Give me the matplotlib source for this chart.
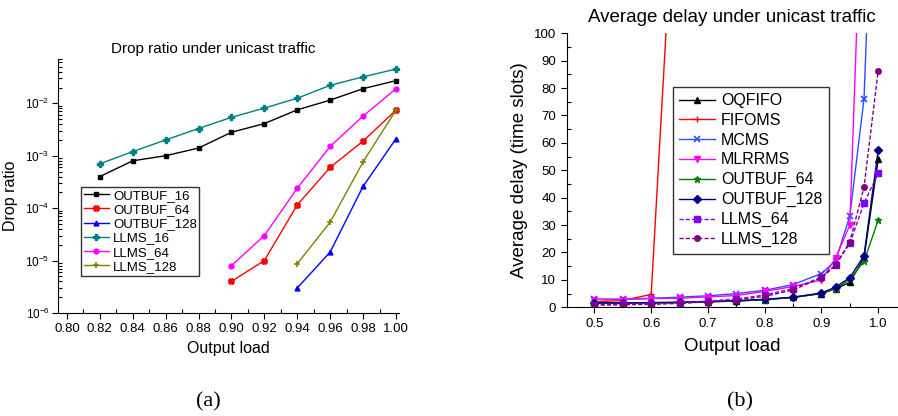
import matplotlib
matplotlib.use('Agg')
import matplotlib.pyplot as plt
from matplotlib.ticker import MultipleLocator, LogLocator, NullFormatter

plt.rcParams['font.family'] = ['Liberation Sans', 'DejaVu Sans']

# --- (a) drop ratio ---
load_a = [0.82, 0.84, 0.86, 0.88, 0.90, 0.92, 0.94, 0.96, 0.98, 1.00]
outbuf16 = [4e-4, 8e-4, 1e-3, 1.4e-3, 2.8e-3, 4.1e-3, 7.5e-3, 1.15e-2, 1.9e-2, 2.7e-2]
llms16 = [7e-4, 1.2e-3, 2e-3, 3.3e-3, 5.4e-3, 8.1e-3, 1.25e-2, 2.2e-2, 3.2e-2, 4.5e-2]
load_a64 = [0.90, 0.92, 0.94, 0.96, 0.98, 1.00]
outbuf64 = [4e-6, 1e-5, 1.15e-4, 6e-4, 1.9e-3, 7.4e-3]
llms64 = [8e-6, 3e-5, 2.4e-4, 1.5e-3, 5.7e-3, 1.9e-2]
load_a128 = [0.94, 0.96, 0.98, 1.00]
outbuf128 = [3e-6, 1.45e-5, 2.6e-4, 2.1e-3]
llms128 = [8.7e-6, 5.4e-5, 7.6e-4, 7.4e-3]

# --- (b) average delay ---
load_b = [0.5, 0.55, 0.6, 0.65, 0.7, 0.75, 0.8, 0.85, 0.9, 0.925, 0.95, 0.975, 1.0]
oqfifo = [1.5, 1.6, 1.7, 1.8, 2.0, 2.3, 2.8, 3.6, 5.0, 6.8, 9.1, 18, 54]
fifoms_x = [0.5, 0.55, 0.6, 0.65]
fifoms = [2.0, 2.5, 4.7, 188]
mcms = [3.0, 3.0, 3.3, 3.7, 4.2, 5.0, 6.2, 8.3, 12.3, 17, 33.3, 76, 212]
mlrrms_x = load_b[:12]
mlrrms = [2.8, 2.8, 3.2, 3.3, 3.8, 4.3, 5.8, 7.6, 10, 18, 30, 178]
ob64 = [1.5, 1.5, 1.6, 1.7, 2.0, 2.3, 2.8, 3.6, 5.1, 6.8, 10.2, 16.8, 31.8]
ob128 = [1.6, 1.6, 1.7, 1.8, 2.1, 2.4, 2.9, 3.7, 5.2, 7.4, 10.8, 18.9, 57.3]
ll64 = [1.0, 1.1, 1.3, 1.6, 2.3, 3.0, 4.5, 6.8, 11, 15.5, 23.3, 38, 48.9]
ll128 = [0.8, 0.9, 1.1, 1.4, 2.0, 2.7, 4.0, 6.3, 10.8, 15.3, 24, 43.8, 86.4]

fig = plt.figure(figsize=(8.98, 4.16), dpi=100)

def style_axes(ax):
    for s in ('top', 'right'):
        ax.spines[s].set_visible(False)
    ax.tick_params(which='major', direction='out', length=4, width=0.8)
    ax.tick_params(which='minor', direction='in', length=3, width=0.8)

ax1 = fig.add_axes([0.0646, 0.2476, 0.380, 0.6106])
ms = 3.5
ax1.plot(load_a, outbuf16, color='black', marker='s', ms=ms, lw=1, label='OUTBUF_16', clip_on=False)
ax1.plot(load_a64, outbuf64, color='red', marker='X', ms=ms + 0.5, lw=1, label='OUTBUF_64', clip_on=False)
ax1.plot(load_a128, outbuf128, color='blue', marker='^', ms=ms, lw=1, label='OUTBUF_128', clip_on=False)
ax1.plot(load_a, llms16, color='#008080', marker='P', ms=ms + 0.5, lw=1, label='LLMS_16', clip_on=False)
ax1.plot(load_a64, llms64, color='#ff00ff', marker='o', ms=ms, lw=1, label='LLMS_64', clip_on=False)
ax1.plot(load_a128, llms128, color='#808000', marker='+', ms=ms + 1, mew=1.2, lw=1, label='LLMS_128', clip_on=False)
ax1.set_yscale('log')
ax1.set_xlim(0.7946, 1.002)
ax1.set_ylim(1e-6, 7e-2)
ax1.set_xticks([0.80, 0.82, 0.84, 0.86, 0.88, 0.90, 0.92, 0.94, 0.96, 0.98, 1.00])
ax1.set_xticklabels(['0.80', '0.82', '0.84', '0.86', '0.88', '0.90', '0.92', '0.94', '0.96', '0.98', '1.00'])
ax1.xaxis.set_minor_locator(MultipleLocator(0.01))
ax1.yaxis.set_major_locator(LogLocator(base=10, numticks=10))
ax1.yaxis.set_minor_locator(LogLocator(base=10, subs=range(2, 10), numticks=10))
ax1.yaxis.set_minor_formatter(NullFormatter())
style_axes(ax1)
ax1.tick_params(axis='x', labelsize=9.5)
ax1.tick_params(axis='y', labelsize=8.5, pad=2)
ax1.set_title('Drop ratio under unicast traffic', fontsize=11, x=0.456, pad=4)
ax1.set_xlabel('Output load', fontsize=11.5)
ax1.set_ylabel('Drop ratio', fontsize=11.5)
ax1.yaxis.set_label_coords(-0.118, 0.46)
leg1 = ax1.legend(loc='upper left', bbox_to_anchor=(0.068, 0.496), fontsize=9.5, frameon=True, fancybox=False,
                  edgecolor='black', handlelength=1.9, borderpad=0.2, labelspacing=0.15, handletextpad=0.3,
                  borderaxespad=0)
leg1.get_frame().set_linewidth(1)

ax2 = fig.add_axes([0.631, 0.2613, 0.3678, 0.6587])
ax2.plot(load_b, oqfifo, color='black', marker='^', ms=4, lw=1, label='OQFIFO')
ax2.plot(fifoms_x, fifoms, color='red', marker='+', ms=5, lw=1, label='FIFOMS')
ax2.plot(load_b, mcms, color='#2a4dff', marker='x', ms=4.5, mew=1.2, lw=1, label='MCMS')
ax2.plot(mlrrms_x, mlrrms, color='#ff00ff', marker='v', ms=4.5, lw=1, label='MLRRMS')
ax2.plot(load_b, ob64, color='#008000', marker='*', ms=5, lw=1, label='OUTBUF_64')
ax2.plot(load_b, ob128, color='#000080', marker='D', ms=4, lw=1, label='OUTBUF_128')
ax2.plot(load_b, ll64, color='#8000ff', marker='s', ms=4, lw=1, ls='--', dashes=(3, 1.5), label='LLMS_64')
ax2.plot(load_b, ll128, color='#800080', marker='o', ms=4, lw=1, ls='--', dashes=(3, 1.5), label='LLMS_128')
ax2.set_xlim(0.451, 1.033)
ax2.set_ylim(0, 100)
ax2.xaxis.set_minor_locator(MultipleLocator(0.05))
ax2.yaxis.set_major_locator(MultipleLocator(10))
ax2.yaxis.set_minor_locator(MultipleLocator(5))
ax2.set_xticks([0.5, 0.6, 0.7, 0.8, 0.9, 1.0])
ax2.set_xticklabels(['0.5', '0.6', '0.7', '0.8', '0.9', '1.0'])
style_axes(ax2)
ax2.tick_params(labelsize=9.5)
ax2.set_title('Average delay under unicast traffic', fontsize=13.5, pad=8)
ax2.set_xlabel('Output load', fontsize=13.5, labelpad=6)
ax2.set_ylabel('Average delay (time slots)', fontsize=13.5, labelpad=4)
leg2 = ax2.legend(loc='upper left', bbox_to_anchor=(0.322, 0.805), fontsize=11.5, frameon=True, fancybox=False,
                  edgecolor='black', handlelength=2.2, borderpad=0.4, labelspacing=0.3, handletextpad=0.4,
                  borderaxespad=0)
leg2.get_frame().set_linewidth(1)

fig.text(0.232, 0.022, '(a)', fontsize=16, family=['Liberation Serif', 'DejaVu Serif'], ha='center')
fig.text(0.824, 0.022, '(b)', fontsize=16, family=['Liberation Serif', 'DejaVu Serif'], ha='center')

fig.savefig('out.png', dpi=100)
